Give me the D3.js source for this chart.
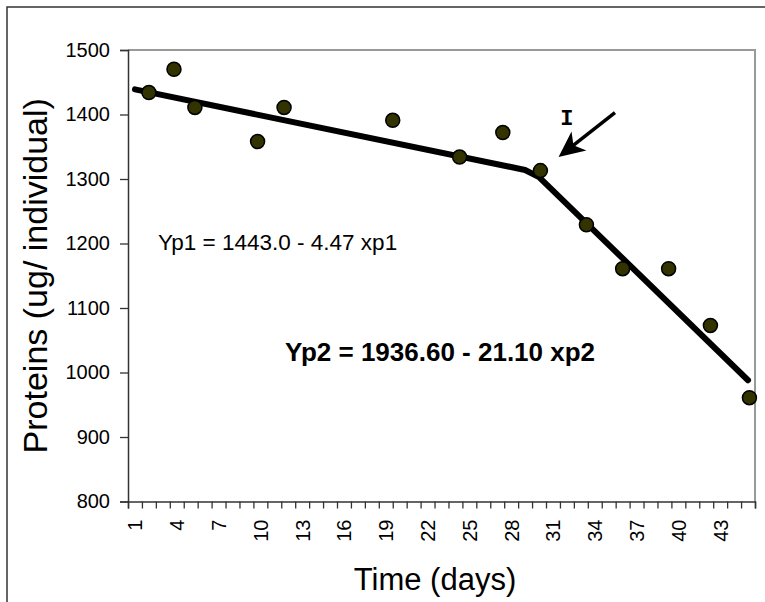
<!DOCTYPE html>
<html>
<head>
	<style>
	body {
		margin: 0;
		background: #fff;
	}
	svg text {
		font-family: "Liberation Sans", Arial, sans-serif;
		fill: #000;
	}
	</style>
</head>
<body>
	<script src="https://d3js.org/d3.v7.min.js"></script>
	<script>
	// observed samples
	var days = [2, 3.8, 5.3, 9.8, 11.7, 19.5, 24.3, 27.4, 30.1, 33.4, 36.0, 39.3, 42.3, 45.1];
	var protein = [1434, 1470, 1411, 1358, 1411, 1391, 1334, 1372, 1313, 1229, 1161, 1161, 1073, 961];

	// fitted broken line
	var trendDays = [1, 29, 30, 45];
	var trendValues = [1439, 1314, 1303, 988];

	var yTicks = [800, 900, 1000, 1100, 1200, 1300, 1400, 1500];
	var dayLabels = [1, 4, 7, 10, 13, 16, 19, 22, 25, 28, 31, 34, 37, 40, 43];
	var nDays = 45;

	var eq1 = "Yp1 = 1443.0 - 4.47 xp1";
	var eq2 = "Yp2 = 1936.60 - 21.10 xp2";

	// arrow pointing at the break
	var arrowFrom = [35.45, 1403], arrowTo = [31.4, 1334];
	var breakLabel = {text: "I", day: 32.0, value: 1384};

	var width = 765, height = 602;

	var svg = d3.select("body").append("svg")
			.attr("width", width)
			.attr("height", height);

	var x = d3.scaleLinear()
		.domain([0.5, nDays + 0.5])
		.range([128, 755]);

	var y = d3.scaleLinear()
		.domain([800, 1500])
		.range([501.5, 50]);

	// chart area border
	svg.append("rect")
		.attr("x", 7).attr("y", 7)
		.attr("width", 820).attr("height", 700)
		.attr("fill", "none")
		.attr("stroke", "#333")
		.attr("stroke-width", 1.5);

	// plot area border (top/right grey)
	svg.append("path")
		.attr("d", "M" + x.range()[0] + "," + y(1500) + "H" + x.range()[1] + "V" + y(800))
		.attr("fill", "none")
		.attr("stroke", "#999")
		.attr("stroke-width", 2);

	// y axis
	var yAxis = svg.append("g")
		.attr("transform", "translate(" + x.range()[0] + ",0)")
		.call(d3.axisLeft(y).tickValues(yTicks).tickSize(8).tickPadding(10).tickFormat(d3.format("d")));
	yAxis.select(".domain").attr("stroke", "#333").attr("stroke-width", 1.5);
	yAxis.selectAll(".tick line").attr("stroke", "#333").attr("stroke-width", 1.3);
	yAxis.selectAll("text").style("font-size", "20px").attr("fill", "#000");

	// x axis ticks sit between days
	var bounds = d3.range(0, nDays + 1).map(function(i){ return i + 0.5; });
	var xAxis = svg.append("g")
		.attr("transform", "translate(0," + y(800) + ")")
		.call(d3.axisBottom(x).tickValues(bounds).tickSize(7).tickFormat(""));
	xAxis.select(".domain").attr("stroke", "#333").attr("stroke-width", 1.5);
	xAxis.selectAll(".tick line").attr("stroke", "#333").attr("stroke-width", 1.3);

	var xLabels = svg.append("g")
		.attr("transform", "translate(0," + y(800) + ")")
		.call(d3.axisBottom(x).tickValues(dayLabels).tickSize(0).tickFormat(d3.format("d")));
	xLabels.select(".domain").remove();
	xLabels.selectAll("text")
		.style("font-size", "20px")
		.attr("fill", "#000")
		.attr("text-anchor", "end")
		.attr("x", -18)
		.attr("y", 0)
		.attr("dy", "0.35em")
		.attr("transform", "rotate(-90)");

	// axis titles
	svg.append("text")
		.attr("x", 435).attr("y", 590)
		.attr("text-anchor", "middle")
		.style("font-size", "31px")
		.text("Time (days)");

	svg.append("text")
		.attr("transform", "translate(47," + ((y(800) + y(1500)) / 2) + ") rotate(-90)")
		.attr("text-anchor", "middle")
		.style("font-size", "34px")
		.text("Proteins (ug/ individual)");

	// trend line
	var line = d3.line()
		.x(function(d){ return x(d[0]); })
		.y(function(d){ return y(d[1]); });

	svg.append("path")
		.datum(d3.zip(trendDays, trendValues))
		.attr("d", line)
		.attr("fill", "none")
		.attr("stroke", "#000")
		.attr("stroke-width", 6)
		.attr("stroke-linecap", "round")
		.attr("stroke-linejoin", "round");

	// points
	svg.append("g").selectAll("circle")
		.data(d3.zip(days, protein))
		.enter().append("circle")
			.attr("cx", function(d){ return x(d[0]); })
			.attr("cy", function(d){ return y(d[1]); })
			.attr("r", 7)
			.attr("fill", "#333300")
			.attr("stroke", "#000")
			.attr("stroke-width", 1.5);

	// equations
	svg.append("text")
		.attr("x", 158).attr("y", 250)
		.style("font-size", "22.5px")
		.text(eq1);

	svg.append("text")
		.attr("x", 285).attr("y", 361)
		.style("font-size", "26px")
		.style("font-weight", "bold")
		.text(eq2);

	// arrow
	var ax0 = x(arrowFrom[0]), ay0 = y(arrowFrom[1]);
	var ax1 = x(arrowTo[0]), ay1 = y(arrowTo[1]);
	var ang = Math.atan2(ay1 - ay0, ax1 - ax0) * 180 / Math.PI;

	svg.append("line")
		.attr("x1", ax0).attr("y1", ay0)
		.attr("x2", ax1 + (ax0 - ax1) * 0.25).attr("y2", ay1 + (ay0 - ay1) * 0.25)
		.attr("stroke", "#000")
		.attr("stroke-width", 3.5);

	svg.append("path")
		.attr("d", "M0,0L-26,-12L-19,0L-26,12Z")
		.attr("transform", "translate(" + ax1 + "," + ay1 + ") rotate(" + ang + ")")
		.attr("fill", "#000");

	svg.append("text")
		.attr("x", x(breakLabel.day)).attr("y", y(breakLabel.value))
		.attr("text-anchor", "middle")
		.style("font-family", "'Liberation Mono', 'DejaVu Sans Mono', monospace")
		.style("font-size", "22px")
		.style("font-weight", "bold")
		.text(breakLabel.text);
	</script>
</body>
</html>
